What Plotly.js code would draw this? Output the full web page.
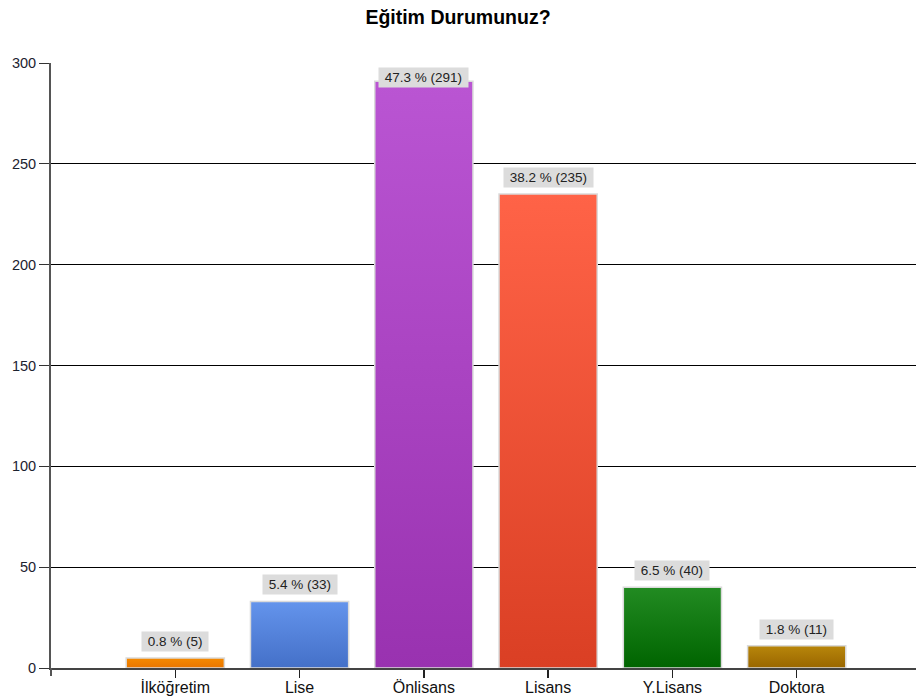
<!DOCTYPE html>
<html>
<head>
<meta charset="utf-8">
<script src="https://cdn.plot.ly/plotly-3.0.1.min.js"></script>
<style>
html,body{margin:0;padding:0;background:#fff;}
#chart{width:916px;height:697px;}
</style>
</head>
<body>
<div id="chart"></div>
<script>
// ---- data ----
const categories = ["İlköğretim", "Lise", "Önlisans", "Lisans", "Y.Lisans", "Doktora"];
const counts = [5, 33, 291, 235, 40, 11];
const percents = [0.8, 5.4, 47.3, 38.2, 6.5, 1.8];
const yTicks = [0, 50, 100, 150, 200, 250, 300];

// ---- styles ----
const topColors = ["#F58A00", "#6494EC", "#BA55D3", "#FF6347", "#228B22", "#B8860B"];
const bottomColors = ["#E87500", "#4470C8", "#9932B0", "#DA3F24", "#006400", "#996600"];

const yMax = 300;
const marginT = 63, marginB = 29, H = 697;
const plotH = H - marginT - marginB;
const pxPerUnit = plotH / yMax;

const barTrace = {
  type: "bar",
  x: categories,
  y: counts,
  width: 0.79,
  marker: {
    color: topColors,
    line: {color: "#DADADA", width: 1.5}
  },
  hoverinfo: "skip",
  showlegend: false
};

const annotations = categories.map((c, i) => {
  const label = "\u00a0" + percents[i].toFixed(1) + " % (" + counts[i] + ")\u00a0";
  const fitsAbove = (yMax - counts[i]) * pxPerUnit >= 28;
  return {
    x: c,
    y: fitsAbove ? counts[i] : yMax,
    xref: "x", yref: "y",
    yanchor: fitsAbove ? "bottom" : "top",
    yshift: fitsAbove ? 6 : -4,
    text: label,
    showarrow: false,
    bgcolor: "#DCDCDC",
    borderpad: 2,
    font: {family: "Liberation Sans, Arial, sans-serif", size: 13.5, color: "#222"}
  };
});

const layout = {
  width: 916,
  height: 697,
  margin: {l: 51, r: 0, t: marginT, b: marginB},
  paper_bgcolor: "#fff",
  plot_bgcolor: "#fff",
  title: {
    text: "<b>Eğitim Durumunuz?</b>",
    font: {family: "Liberation Sans, Arial, sans-serif", size: 19.5, color: "#000"},
    x: 0.5, xanchor: "center",
    y: 1 - 17 / H, yanchor: "middle"
  },
  xaxis: {
    type: "category",
    range: [-1, 5.96],
    showgrid: false,
    showline: true,
    linecolor: "#444",
    linewidth: 2,
    ticks: "outside",
    ticklen: 8,
    tickwidth: 1.5,
    tickcolor: "#222",
    ticklabelstandoff: -4,
    tickfont: {family: "Liberation Sans, Arial, sans-serif", size: 16, color: "#111"},
    fixedrange: true
  },
  yaxis: {
    range: [0, yMax],
    tickvals: yTicks,
    showgrid: true,
    gridcolor: "#000",
    gridwidth: 1,
    zeroline: false,
    showline: true,
    linecolor: "#555",
    linewidth: 2,
    ticks: "outside",
    ticklen: 10,
    tickwidth: 1,
    tickcolor: "#333",
    tickfont: {family: "Liberation Sans, Arial, sans-serif", size: 14.5, color: "#1c2230"},
    fixedrange: true
  },
  shapes: [{
    type: "line", xref: "paper", yref: "paper",
    x0: 0, x1: 0, y0: 0, y1: -8 / plotH,
    line: {color: "#555", width: 2}
  }],
  annotations: annotations,
  bargap: 0.21
};

Plotly.newPlot("chart", [barTrace], layout, {displayModeBar: false, staticPlot: true}).then(gd => {
  const svg = gd.querySelector(".main-svg");
  const ns = "http://www.w3.org/2000/svg";
  let defs = svg.querySelector("defs");
  if (!defs) { defs = document.createElementNS(ns, "defs"); svg.insertBefore(defs, svg.firstChild); }
  const paths = gd.querySelectorAll(".barlayer .point path");
  paths.forEach((p, i) => {
    const g = document.createElementNS(ns, "linearGradient");
    g.setAttribute("id", "barGrad" + i);
    g.setAttribute("x1", "0"); g.setAttribute("y1", "0");
    g.setAttribute("x2", "0"); g.setAttribute("y2", "1");
    const s1 = document.createElementNS(ns, "stop");
    s1.setAttribute("offset", "0"); s1.setAttribute("stop-color", topColors[i]);
    const s2 = document.createElementNS(ns, "stop");
    s2.setAttribute("offset", "1"); s2.setAttribute("stop-color", bottomColors[i]);
    g.appendChild(s1); g.appendChild(s2);
    defs.appendChild(g);
    p.style.fill = "url(#barGrad" + i + ")";
  });
});
</script>
</body>
</html>
